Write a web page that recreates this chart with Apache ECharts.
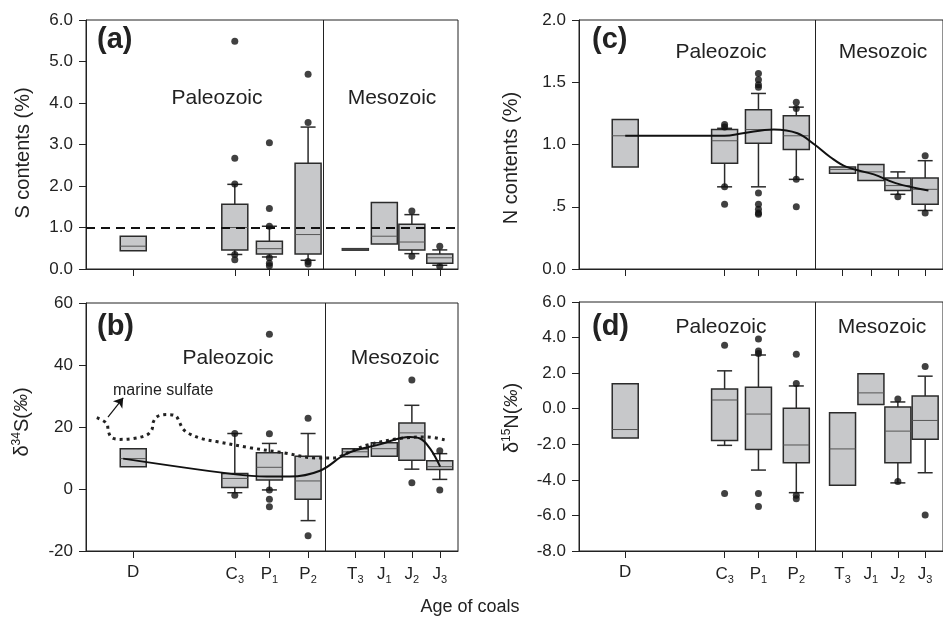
<!DOCTYPE html>
<html lang="en">
<head>
<meta charset="UTF-8">
<title>S and N in coals</title>
<script src="https://cdn.jsdelivr.net/npm/echarts@6/dist/echarts.min.js"></script>
<style>html,body{margin:0;padding:0;background:#fff;}</style>
</head>
<body>
<div id="main" style="width:943px;height:620px;"></div>
<script type="text/javascript">
// coal ages and their positions along the x axis (0-100)
var ages = ['D', 'C3', 'P1', 'P2', 'T3', 'J1', 'J2', 'J3'];
var agePos = [12.7, 40.0, 49.3, 59.7, 72.4, 80.2, 87.6, 95.1];

// box stats per age: [low whisker, Q1, median, Q3, high whisker]
// a whisker equal to the box edge means no whisker
var sBox = [
    [0.44, 0.44, 0.55, 0.79, 0.79],
    [0.35, 0.46, 1.00, 1.56, 2.04],
    [0.29, 0.36, 0.49, 0.67, 1.03],
    [0.21, 0.36, 0.83, 2.55, 3.42],
    [0.47, 0.47, 0.48, 0.49, 0.49],
    [0.60, 0.60, 0.79, 1.60, 1.60],
    [0.37, 0.46, 0.65, 1.08, 1.31],
    [0.09, 0.14, 0.27, 0.36, 0.46]
];
var sOut = [[], [5.49, 2.67, 2.05, 0.35, 0.22], [3.04, 1.46, 1.03, 0.27, 0.14, 0.08],
    [4.69, 3.53, 0.18, 0.12], [], [], [1.40, 0.31], [0.55, 0.06]];

var d34Box = [
    [7.2, 7.2, 9.8, 13.0, 13.0],
    [-1.2, 0.5, 3.4, 5.0, 17.9],
    [-0.3, 2.9, 7.0, 11.7, 14.7],
    [-10.2, -3.3, 2.6, 10.6, 17.9],
    [10.4, 10.4, 12.0, 13.0, 13.0],
    [10.6, 10.6, 13.0, 14.9, 14.9],
    [6.4, 9.3, 18.1, 21.3, 27.0],
    [3.1, 6.3, 7.2, 9.1, 11.4]
];
var d34Out = [[], [17.9, -2.0], [49.9, 17.8, -0.3, -3.3, -5.7], [22.8, -15.1],
    [], [], [35.2, 2.0], [12.3, -0.3]];
// smoothed trend of coal d34S and the marine sulfate curve
var d34Trend = [[10.0, 9.8], [39.6, 4.8], [48.6, 4.0], [54.8, 4.0], [62.9, 5.9], [70.1, 11.4],
    [79.0, 14.4], [87.1, 16.8], [89.8, 16.3], [92.5, 13.0], [95.2, 7.2]];
var marineSulfate = [[2.9, 23.0], [5.6, 21.1], [6.0, 18.6], [6.9, 16.6], [9.1, 16.0], [12.7, 16.3],
    [16.3, 17.4], [17.7, 19.1], [18.1, 21.6], [19.2, 23.4], [21.7, 24.0], [24.1, 23.6],
    [25.1, 21.6], [26.0, 19.5], [27.5, 18.0], [31.0, 16.3], [35.1, 15.3], [44.1, 13.3],
    [53.0, 11.7], [62.0, 10.0], [66.5, 10.0], [71.0, 12.0], [75.4, 14.1], [84.4, 16.3],
    [91.6, 16.8], [96.9, 15.7]];

var nBox = [
    [0.82, 0.82, 1.07, 1.20, 1.20],
    [0.66, 0.85, 1.03, 1.12, 1.13],
    [0.66, 1.01, 1.12, 1.28, 1.41],
    [0.72, 0.96, 1.07, 1.23, 1.30],
    [0.77, 0.77, 0.80, 0.82, 0.82],
    [0.71, 0.71, 0.78, 0.84, 0.84],
    [0.60, 0.63, 0.67, 0.73, 0.78],
    [0.47, 0.52, 0.64, 0.73, 0.87]
];
var nOut = [[], [1.16, 1.14, 0.66, 0.52], [1.57, 1.52, 1.48, 1.46, 0.61, 0.52, 0.48, 0.45, 0.44],
    [1.34, 1.29, 0.72, 0.50], [], [], [0.58], [0.91, 0.45]];
var nTrend = [[12.7, 1.07], [40.0, 1.07], [45.0, 1.09], [53.5, 1.12], [60.0, 1.09], [64.7, 1.0],
    [69.0, 0.90], [73.5, 0.82], [81.0, 0.76], [87.0, 0.69], [96.0, 0.63]];

var d15Box = [
    [-1.64, -1.64, -1.17, 1.40, 1.40],
    [-2.06, -1.79, 0.49, 1.11, 2.13],
    [-3.45, -2.30, -0.30, 1.21, 3.02],
    [-4.72, -3.04, -2.04, 0.02, 1.28],
    [-4.30, -4.30, -2.26, -0.23, -0.23],
    [0.23, 0.23, 0.89, 1.96, 1.96],
    [-4.17, -3.04, -1.26, 0.09, 0.38],
    [-3.60, -1.72, -0.66, 0.72, 1.83]
];
var d15Out = [[], [3.57, -4.77], [3.92, 3.25, 3.10, -4.77, -5.50], [3.06, 1.42, -4.87, -5.06],
    [], [], [0.55, -4.09], [2.38, -5.98]];

var BOX_W = 26, CAP_W = 15;
var LABEL_FONT = "'Liberation Sans', Arial, sans-serif";
var NARROW_FONT = "'Liberation Sans Narrow', 'Arial Narrow', 'Liberation Sans', sans-serif";

function boxData(box) {
    return box.map(function (b, i) { return [agePos[i]].concat(b); });
}
function outData(out) {
    var res = [];
    out.forEach(function (vals, i) {
        vals.forEach(function (v) { res.push([agePos[i], v]); });
    });
    return res;
}

function renderBox(params, api) {
    var x = api.value(0);
    var lo = api.value(1), q1 = api.value(2), md = api.value(3), q3 = api.value(4), hi = api.value(5);
    var cx = api.coord([x, md])[0];
    var yLo = api.coord([x, lo])[1], yQ1 = api.coord([x, q1])[1], yMd = api.coord([x, md])[1];
    var yQ3 = api.coord([x, q3])[1], yHi = api.coord([x, hi])[1];
    var lineStyle = { stroke: '#2b2b2b', lineWidth: 1.5 };
    var kids = [];
    if (hi > q3) {
        kids.push({ type: 'line', shape: { x1: cx, y1: yQ3, x2: cx, y2: yHi }, style: lineStyle });
        kids.push({ type: 'line', shape: { x1: cx - CAP_W / 2, y1: yHi, x2: cx + CAP_W / 2, y2: yHi }, style: lineStyle });
    }
    if (lo < q1) {
        kids.push({ type: 'line', shape: { x1: cx, y1: yQ1, x2: cx, y2: yLo }, style: lineStyle });
        kids.push({ type: 'line', shape: { x1: cx - CAP_W / 2, y1: yLo, x2: cx + CAP_W / 2, y2: yLo }, style: lineStyle });
    }
    kids.push({
        type: 'rect',
        shape: { x: cx - BOX_W / 2, y: yQ3, width: BOX_W, height: Math.max(yQ1 - yQ3, 1.5) },
        style: { fill: '#c7c8ca', stroke: '#2b2b2b', lineWidth: 1.5 }
    });
    kids.push({ type: 'line', shape: { x1: cx - BOX_W / 2, y1: yMd, x2: cx + BOX_W / 2, y2: yMd }, style: { stroke: '#555', lineWidth: 1 } });
    return { type: 'group', children: kids };
}

function ageLabel(v) {
    var i = agePos.indexOf(v);
    if (i < 0) return '';
    var a = ages[i];
    return a.length > 1 ? '{b|' + a[0] + '}{s|' + a.slice(1) + '}' : '{b|' + a + '}';
}

function xAxisFor(grid, showLabel) {
    return {
        type: 'value', gridIndex: grid, min: 0, max: 100,
        axisLine: { show: true, onZero: false, lineStyle: { color: '#222', width: 1 } },
        axisTick: { show: true, customValues: agePos, length: 7, lineStyle: { color: '#222' } },
        axisLabel: {
            show: showLabel, customValues: agePos, formatter: ageLabel, margin: 13,
            rich: {
                b: { fontFamily: NARROW_FONT, fontSize: 17, color: '#222' },
                s: { fontFamily: NARROW_FONT, fontSize: 11, color: '#222', padding: [10, 0, 0, 0] }
            }
        },
        splitLine: { show: false }
    };
}

function yAxisFor(grid, min, max, interval, fmt) {
    return {
        type: 'value', gridIndex: grid, min: min, max: max, interval: interval,
        axisLine: { show: true, lineStyle: { color: '#222', width: 1 } },
        axisTick: { show: true, length: 7, lineStyle: { color: '#222' } },
        axisLabel: { fontFamily: LABEL_FONT, fontSize: 17, color: '#222', margin: 13, formatter: fmt },
        splitLine: { show: false }
    };
}

function divider(x) {
    return { xAxis: x, lineStyle: { color: '#222', width: 1, type: 'solid' } };
}

function panelSeries(g, box, out, divX, extraMark) {
    var marks = [divider(divX)].concat(extraMark || []);
    return [{
        type: 'custom', xAxisIndex: g, yAxisIndex: g, renderItem: renderBox,
        data: boxData(box), z: 3
    }, {
        type: 'scatter', xAxisIndex: g, yAxisIndex: g, data: outData(out),
        symbolSize: 7, itemStyle: { color: '#111' }, z: 5,
        markLine: { silent: true, symbol: 'none', label: { show: false }, animation: false, data: marks }
    }];
}

function txt(x, y, text, size, extra) {
    var st = { text: text, x: x, y: y, fill: '#222', font: (extra && extra.bold ? 'bold ' : '') + size + 'px ' + LABEL_FONT,
        align: (extra && extra.align) || 'center', verticalAlign: 'middle' };
    if (extra && extra.font) st.font = extra.font;
    return { type: 'text', style: st, z: 10 };
}

function vtitle(x, y, text, rich) {
    return {
        type: 'text', x: x, y: y, rotation: Math.PI / 2, z: 10,
        style: { text: text, font: '20px ' + LABEL_FONT, fill: '#222', align: 'center', verticalAlign: 'middle', rich: rich }
    };
}

var myChart = echarts.init(document.getElementById('main'));

var titleRich = {
    n: { fontFamily: LABEL_FONT, fontSize: 20, color: '#222' },
    sup: { fontFamily: LABEL_FONT, fontSize: 12, color: '#222', padding: [0, 0, 10, 0] },
    pm: { fontFamily: LABEL_FONT, fontSize: 18, fontStyle: 'italic', color: '#222' }
};

var series = []
    .concat(panelSeries(0, sBox, sOut, 63.9, [{ yAxis: 1.0, lineStyle: { color: '#111', width: 2, type: [9, 6] } }]))
    .concat(panelSeries(1, d34Box, d34Out, 64.2, []))
    .concat(panelSeries(2, nBox, nOut, 64.9, []))
    .concat(panelSeries(3, d15Box, d15Out, 64.9, []));

series.push({
    type: 'line', xAxisIndex: 1, yAxisIndex: 1, data: marineSulfate, smooth: 0.35,
    symbol: 'none', lineStyle: { color: '#222', width: 3, type: [3, 4] }, z: 4,
    markLine: {
        silent: true, animation: false, label: { show: false },
        lineStyle: { color: '#111', width: 1.2, type: 'solid' },
        data: [[{ coord: [5.9, 23.2], symbol: 'none' }, { coord: [10.0, 29.4], symbol: 'arrow', symbolSize: 9 }]]
    }
});
series.push({
    type: 'line', xAxisIndex: 1, yAxisIndex: 1, data: d34Trend, smooth: 0.4,
    symbol: 'none', lineStyle: { color: '#111', width: 2 }, z: 6
});
series.push({
    type: 'line', xAxisIndex: 2, yAxisIndex: 2, data: nTrend, smooth: 0.4,
    symbol: 'none', lineStyle: { color: '#111', width: 2 }, z: 6
});

option = {
    backgroundColor: '#fff',
    animation: false,
    grid: [
        { left: 86, top: 20, width: 372, height: 249, show: true, borderColor: '#222', borderWidth: 1 },
        { left: 86, top: 303, width: 372, height: 248, show: true, borderColor: '#222', borderWidth: 1 },
        { left: 579, top: 20, width: 373, height: 249, show: true, borderColor: '#222', borderWidth: 1 },
        { left: 579, top: 302, width: 373, height: 249, show: true, borderColor: '#222', borderWidth: 1 }
    ],
    xAxis: [xAxisFor(0, false), xAxisFor(1, true), xAxisFor(2, false), xAxisFor(3, true)],
    yAxis: [
        yAxisFor(0, 0, 6, 1, function (v) { return v.toFixed(1); }),
        yAxisFor(1, -20, 60, 20, function (v) { return String(v); }),
        yAxisFor(2, 0, 2, 0.5, function (v) { return v === 0.5 ? '.5' : v.toFixed(1); }),
        yAxisFor(3, -8, 6, 2, function (v) { return v.toFixed(1); })
    ],
    series: series,
    graphic: [
        txt(97, 40, '(a)', 29, { bold: true, align: 'left' }),
        txt(97, 327, '(b)', 29, { bold: true, align: 'left' }),
        txt(592, 40, '(c)', 29, { bold: true, align: 'left' }),
        txt(592, 327, '(d)', 29, { bold: true, align: 'left' }),
        txt(217, 98, 'Paleozoic', 21),
        txt(392, 98, 'Mesozoic', 21),
        txt(228, 358, 'Paleozoic', 21),
        txt(395, 358, 'Mesozoic', 21),
        txt(721, 52, 'Paleozoic', 21),
        txt(883, 52, 'Mesozoic', 21),
        txt(721, 327, 'Paleozoic', 21),
        txt(882, 327, 'Mesozoic', 21),
        txt(113, 391, 'marine sulfate', 16, { align: 'left' }),
        txt(470, 607, 'Age of coals', 18, { font: '18px ' + NARROW_FONT }),
        vtitle(23, 153, 'S contents (%)'),
        vtitle(22, 422, '{n|δ}{sup|34}{n|S(}{pm|‰}{n|)}', titleRich),
        vtitle(511, 158, 'N contents (%)'),
        vtitle(512, 418, '{n|δ}{sup|15}{n|N(}{pm|‰}{n|)}', titleRich)
    ]
};

myChart.setOption(option);
</script>
</body>
</html>
